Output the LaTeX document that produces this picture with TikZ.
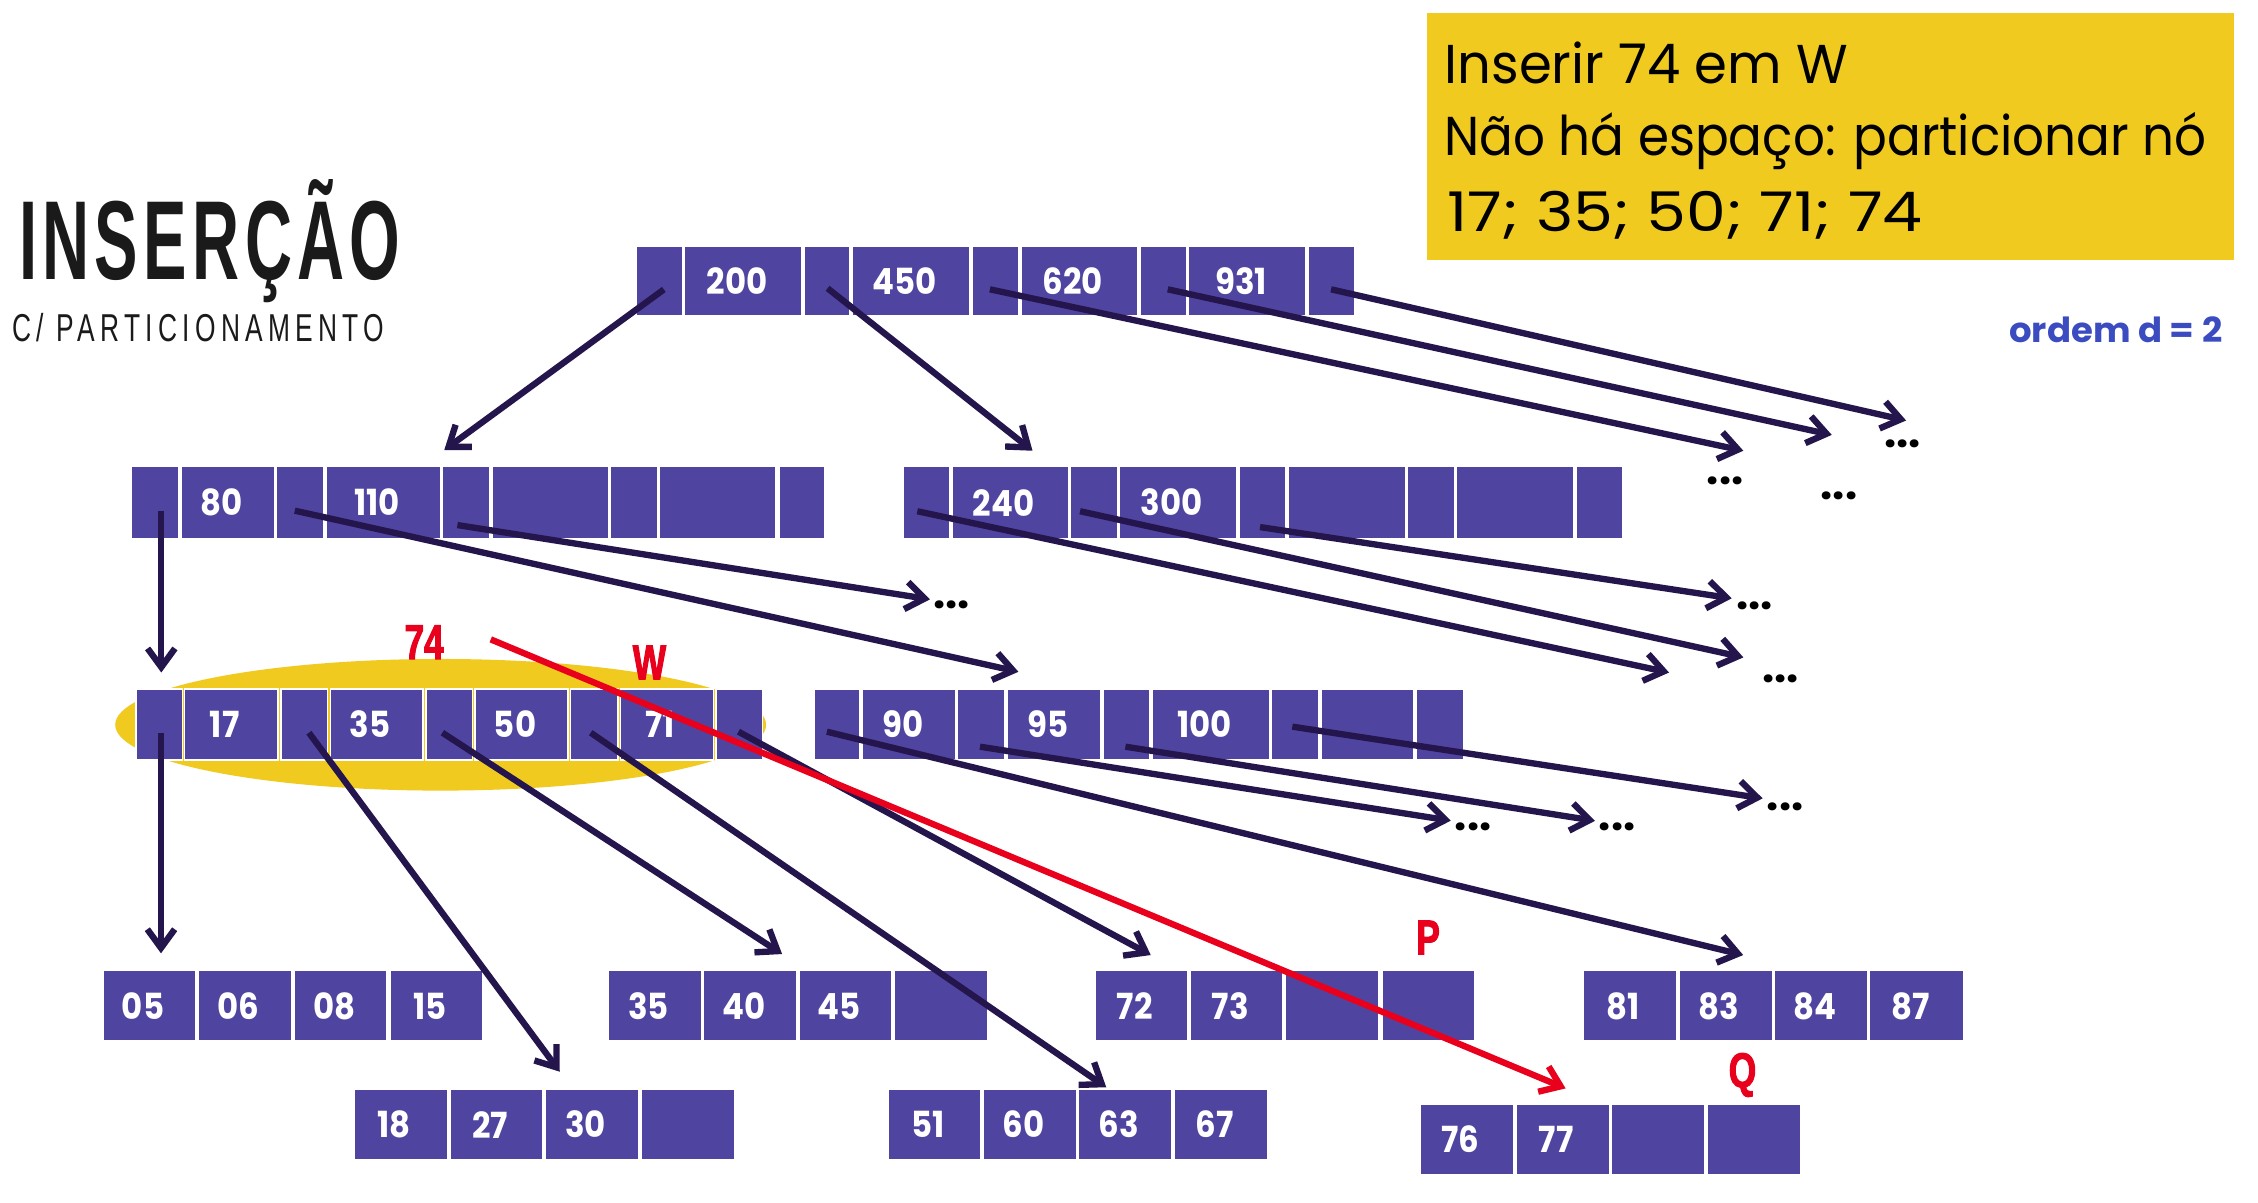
\documentclass[tikz,border=0pt]{standalone}
\usepackage{fontspec}
\usepackage{graphicx}
\setmainfont{Poppins}
\newfontfamily\titlefont{Liberation Sans}[FakeStretch=0.6]
\newfontfamily\numfont{Poppins}[FakeStretch=0.9]
\newfontfamily\redfont{Liberation Sans}[FakeStretch=0.72, BoldFeatures={FakeBold=2}]
\usetikzlibrary{arrows.meta}
\definecolor{cellc}{RGB}{79,69,161}
\definecolor{arrc}{RGB}{36,22,76}
\definecolor{redc}{RGB}{232,0,28}
\definecolor{yel}{RGB}{241,202,31}
\definecolor{bluec}{RGB}{59,76,192}
\definecolor{titc}{RGB}{26,26,26}
\newcommand\cel[6]{\node[cell, minimum width={(#3)-(#2)}, minimum height={(#5)-(#4)}] (#1) at (#2,#4) {\hspace*{-9pt}#6};}
\begin{document}
\begin{tikzpicture}[x=1pt,y=-1pt,
  cell/.style={fill=cellc, draw=white, line width=1pt, inner sep=0pt, outer sep=0pt, text=white, font=\numfont\bfseries\fontsize{25}{25}\selectfont, anchor=north west},
  link/.style={draw=arrc, line width=4.4pt, -{Straight Barb[length=13pt,width=19pt]}},
  redlink/.style={draw=redc, line width=4.4pt, -{Straight Barb[length=13pt,width=19pt]}},
  dots/.style={font=\bfseries\fontsize{30}{30}\selectfont, inner sep=0pt, text=black},
  redlab/.style={text=redc, font=\redfont\bfseries\fontsize{34}{34}\selectfont, inner sep=0pt}]
\useasboundingbox (0,0) rectangle (1568,835);
\fill[white] (0,0) rectangle (1568,835);
% title
\node[anchor=base west, inner sep=0pt, text=titc] (title) at (13,194.4)
  {\resizebox{265pt}{\height}{\titlefont\bfseries\fontsize{78}{80}\selectfont\addfontfeature{LetterSpace=5}INSERÇÃO}};
\node[anchor=base west, inner sep=0pt, text=titc] (subtitle) at (8.5,237)
  {\resizebox{258pt}{\height}{\titlefont\fontsize{27}{28}\selectfont\addfontfeature{LetterSpace=12}C/ PARTICIONAMENTO}};
% yellow info box
\fill[yel] (990.6,9.3) rectangle (1551.4,180.6);
\node[anchor=base west, inner sep=0pt] (info1) at (1003,57.9)
  {\resizebox{280pt}{\height}{\fontsize{38}{40}\selectfont Inserir 74 em W}};
\node[anchor=base west, inner sep=0pt] (info2) at (1003,108.3)
  {\resizebox{529pt}{\height}{\fontsize{38}{40}\selectfont Não há espaço: particionar nó}};
\node[anchor=base west, inner sep=0pt] (info3) at (1005,160.9)
  {\resizebox{330pt}{\height}{\fontsize{38}{40}\selectfont 17; 35; 50; 71; 74}};
\node[anchor=base west, inner sep=0pt, text=bluec] (ordem) at (1395,238)
  {\resizebox{148pt}{\height}{\bfseries\fontsize{24}{25}\selectfont ordem d = 2}};
% highlight ellipse for W
\fill[yel] (306,503.3) ellipse [x radius=226pt, y radius=45.7pt];
% root
\cel{r0}{442}{474}{171}{219}{}
\cel{r1}{475.5}{557}{171}{219}{200}
\cel{r2}{558.5}{590}{171}{219}{}
\cel{r3}{591.5}{673.5}{171}{219}{450}
\cel{r4}{675}{707.5}{171}{219}{}
\cel{r5}{709}{790}{171}{219}{620}
\cel{r6}{791.5}{824}{171}{219}{}
\cel{r7}{825.5}{907}{171}{219}{931}
\cel{r8}{908.5}{941}{171}{219}{}
% level 2 left
\cel{a0}{91.4}{124}{324}{374}{}
\cel{a1}{126}{190.5}{324}{374}{80}
\cel{a2}{192}{224.5}{324}{374}{}
\cel{a3}{226.6}{305.7}{324}{374}{110}
\cel{a4}{307}{339.8}{324}{374}{}
\cel{a5}{341.6}{422.6}{324}{374}{}
\cel{a6}{424}{456.8}{324}{374}{}
\cel{a7}{458}{539}{324}{374}{}
\cel{a8}{540.8}{573}{324}{374}{}
% level 2 right
\cel{b0}{627}{659.5}{324}{374}{}
\cel{b1}{661}{742}{324}{374}{240}
\cel{b2}{743.5}{776}{324}{374}{}
\cel{b3}{777.5}{859}{324}{374}{300}
\cel{b4}{860.5}{893}{324}{374}{}
\cel{b5}{894.5}{976}{324}{374}{}
\cel{b6}{977.5}{1010}{324}{374}{}
\cel{b7}{1011.5}{1093}{324}{374}{}
\cel{b8}{1094.5}{1127}{324}{374}{}
% level 3: W
\cel{w0}{94.4}{126.6}{478.5}{527.8}{}
\cel{w1}{128}{193}{478.5}{527.8}{17}
\cel{w2}{195}{227.5}{478.5}{527.8}{}
\cel{w3}{229.6}{293.7}{478.5}{527.8}{35}
\cel{w4}{295.8}{328.3}{478.5}{527.8}{}
\cel{w5}{329.8}{394.5}{478.5}{527.8}{50}
\cel{w6}{396.3}{429}{478.5}{527.8}{}
\cel{w7}{430.7}{495.4}{478.5}{527.8}{71}
\cel{w8}{497.2}{529.4}{478.5}{527.8}{}
% level 3: 90 95 100
\cel{n0}{565.2}{597}{478.5}{527.8}{}
\cel{n1}{598.7}{664}{478.5}{527.8}{90}
\cel{n2}{665}{698}{478.5}{527.8}{}
\cel{n3}{699.7}{764.5}{478.5}{527.8}{95}
\cel{n4}{766}{798.5}{478.5}{527.8}{}
\cel{n5}{800}{881.5}{478.5}{527.8}{100}
\cel{n6}{883}{916}{478.5}{527.8}{}
\cel{n7}{917.6}{982}{478.5}{527.8}{}
\cel{n8}{983.6}{1016.5}{478.5}{527.8}{}
% leaves row 1
\cel{la1}{71.6}{136}{674}{723}{05}
\cel{la2}{137.6}{202.4}{674}{723}{06}
\cel{la3}{204.3}{268.7}{674}{723}{08}
\cel{la4}{270.9}{335.4}{674}{723}{15}
\cel{lc1}{422.5}{487}{674}{723}{35}
\cel{lc2}{488.7}{553.2}{674}{723}{40}
\cel{lc3}{554.9}{619.4}{674}{723}{45}
\cel{lc4}{621.1}{685.6}{674}{723}{}
\cel{le1}{760.3}{824.6}{674}{723}{72}
\cel{le2}{826.7}{891}{674}{723}{73}
\cel{le3}{892.6}{957.5}{674}{723}{}
\cel{le4}{959.6}{1024}{674}{723}{}
\cel{lg1}{1099.4}{1164}{674}{723}{81}
\cel{lg2}{1165.9}{1230.7}{674}{723}{83}
\cel{lg3}{1232.3}{1297}{674}{723}{84}
\cel{lg4}{1298.3}{1363.6}{674}{723}{87}
% leaves row 2
\cel{lb1}{246}{310.6}{756.3}{805.6}{18}
\cel{lb2}{312.4}{377.2}{756.3}{805.6}{27}
\cel{lb3}{378.8}{443.6}{756.3}{805.6}{30}
\cel{lb4}{445.4}{510}{756.3}{805.6}{}
\cel{ld1}{616.7}{681}{756.3}{805.6}{51}
\cel{ld2}{682.7}{747.5}{756.3}{805.6}{60}
\cel{ld3}{749.1}{814}{756.3}{805.6}{63}
\cel{ld4}{815.6}{880.4}{756.3}{805.6}{67}
\cel{lq1}{986.2}{1051}{766.7}{815.8}{76}
\cel{lq2}{1052.7}{1117.5}{766.7}{815.8}{77}
\cel{lq3}{1119}{1184}{766.7}{815.8}{}
\cel{lq4}{1185.6}{1250.4}{766.7}{815.8}{}
% ellipsis marks
\node[dots] (d1) at (1198,334) {...};
\node[dots] (d2) at (1277,344) {...};
\node[dots] (d3) at (1321,308) {...};
\node[dots] (d4) at (661,420) {...};
\node[dots] (d5) at (1218.3,420.6) {...};
\node[dots] (d6) at (1236.6,471.7) {...};
\node[dots] (d7) at (1023,574.5) {...};
\node[dots] (d8) at (1123,574.5) {...};
\node[dots] (d9) at (1239.6,560.6) {...};
% connector end points
\coordinate (sr0) at (461,201);   \coordinate (ta) at (308.5,312.5);
\coordinate (sr2) at (574.7,200.2); \coordinate (tb) at (717,313);
\coordinate (sr4) at (687.4,200.9); \coordinate (t1) at (1210.6,313);
\coordinate (sr6) at (810.9,200.9); \coordinate (t2) at (1272,302);
\coordinate (sr8) at (924.3,200.9); \coordinate (t3) at (1323.6,292);
\coordinate (sa0) at (112,354.6);   \coordinate (tw) at (112,467);
\coordinate (sa2) at (204.7,354.6); \coordinate (tn) at (707.2,466.5);
\coordinate (sa4) at (317.6,364.6); \coordinate (t4) at (645.8,416.2);
\coordinate (sb0) at (637,355);     \coordinate (t5) at (1159,467);
\coordinate (sb2) at (750,355);     \coordinate (t6) at (1210.6,456.5);
\coordinate (sb4) at (875,366);     \coordinate (t7) at (1202.5,415.5);
\coordinate (sw0) at (111.8,509.3); \coordinate (tla) at (111.8,662);
\coordinate (sw2) at (214.5,508.8); \coordinate (tlb) at (388.7,744.2);
\coordinate (sw4) at (307.2,508.8); \coordinate (tlc) at (543.1,662.5);
\coordinate (sw6) at (410.2,508.8); \coordinate (tld) at (768.2,755);
\coordinate (sw8) at (512.8,508.1); \coordinate (tle) at (799.1,663.2);
\coordinate (sn0) at (574.2,508.1); \coordinate (tlg) at (1210.5,663.2);
\coordinate (sn2) at (680.5,518.5); \coordinate (t8) at (1007.4,569.9);
\coordinate (sn4) at (781.5,518.5); \coordinate (t9) at (1107.6,570);
\coordinate (sn6) at (897.4,504.6); \coordinate (t10) at (1224,554.4);
\coordinate (s74) at (340.8,444);   \coordinate (tq) at (1087.2,755.8);
% connectors
\draw[link] (sr0) -- (ta);
\draw[link] (sr2) -- (tb);
\draw[link] (sr4) -- (t1);
\draw[link] (sr6) -- (t2);
\draw[link] (sr8) -- (t3);
\draw[link] (sa0) -- (tw);
\draw[link] (sa2) -- (tn);
\draw[link] (sa4) -- (t4);
\draw[link] (sb0) -- (t5);
\draw[link] (sb2) -- (t6);
\draw[link] (sb4) -- (t7);
\draw[link] (sw0) -- (tla);
\draw[link] (sw2) -- (tlb);
\draw[link] (sw4) -- (tlc);
\draw[link] (sw6) -- (tld);
\draw[link] (sw8) -- (tle);
\draw[link] (sn0) -- (tlg);
\draw[link] (sn2) -- (t8);
\draw[link] (sn4) -- (t9);
\draw[link] (sn6) -- (t10);
% red labels and insertion arrow
\node[redlab] (l74) at (294.5,446) {74};
\node[redlab] (lW) at (451,460) {W};
\node[redlab] (lP) at (991.7,651) {P};
\node[redlab, anchor=base] (lQ) at (1210,755) {Q};
\draw[redlink] (s74) -- (tq);
\end{tikzpicture}
\end{document}
